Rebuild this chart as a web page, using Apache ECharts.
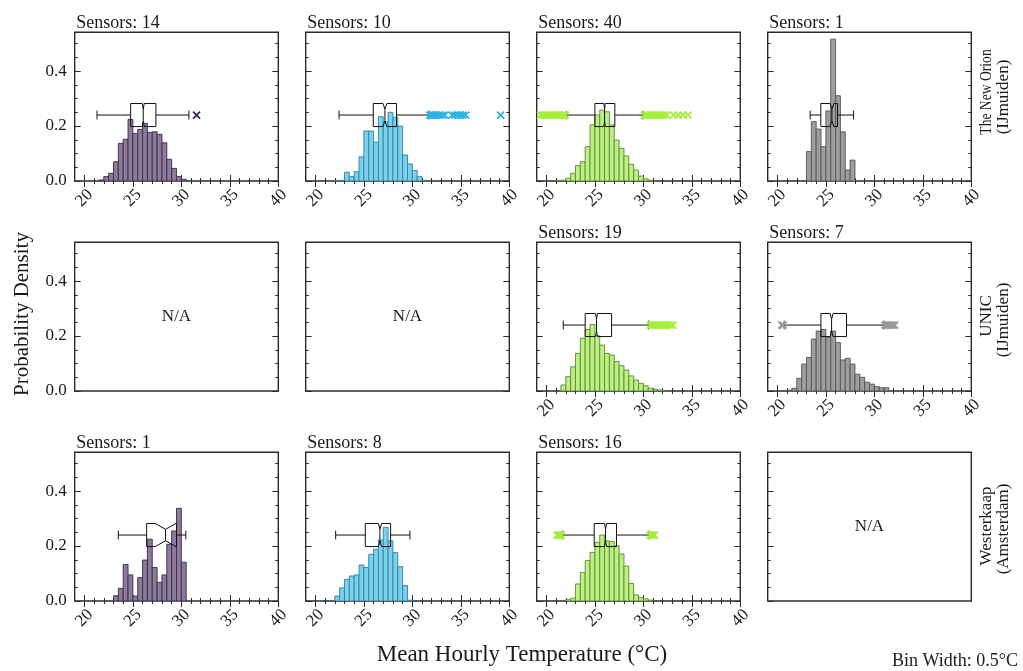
<!DOCTYPE html>
<html>
<head>
<meta charset="utf-8">
<script src="https://cdn.jsdelivr.net/npm/echarts@6/dist/echarts.min.js"></script>
<style>
  html, body { margin: 0; padding: 0; background: #fff; }
  #chart { width: 1023px; height: 671px; }
</style>
</head>
<body>
<div id="chart"></div>
<script>
// ---------------- data ----------------
const binWidth = 0.5;
const xTickValues = [20, 25, 30, 35, 40];
const yTickValues = [0, 0.2, 0.4];
const siteNames = ['The New Orion', 'UNIC', 'Westerkaap'];
const siteCities = ['(IJmuiden)', '(IJmuiden)', '(Amsterdam)'];
const xTitle = 'Mean Hourly Temperature (°C)';
const yTitle = 'Probability Density';
const binNote = 'Bin Width: 0.5°C';
const missingLabel = 'N/A';

// sensors per panel (columns left to right); null = no data
const sensorsOrion = [14, 10, 40, 1];
const sensorsUnic = [null, null, 19, 7];
const sensorsWesterkaap = [1, 8, 16, null];

// histogram: left edge of first bin + densities per 0.5 °C bin
// box: [lower whisker, Q1, notch low, median, notch high, Q3, upper whisker]
const orion1Start = 21.5;
const orion1Density = [0.004, 0.016, 0.028, 0.07, 0.137, 0.152, 0.224, 0.173, 0.188, 0.21, 0.177, 0.179, 0.17, 0.139, 0.079, 0.046, 0.016, 0.006];
const orion1Box = [21.3, 24.77, 25.97, 26.07, 26.17, 27.38, 30.78];
const orion1Outliers = [31.57];

const orion2Start = 22.0;
const orion2Density = [0.002, 0.002, 0.032, 0.016, 0.034, 0.088, 0.182, 0.182, 0.141, 0.234, 0.216, 0.25, 0.232, 0.2, 0.095, 0.062, 0.038, 0.016, 0.003];
const orion2Box = [22.44, 25.97, 26.97, 27.17, 27.37, 28.37, 31.74];
const orion2Outliers = [31.8, 31.95, 32.1, 32.3, 32.5, 32.8, 33.1, 33.35, 34.1, 34.4, 34.7, 34.95, 35.2, 35.5, 39.1];

const orion3Start = 21.0;
const orion3Density = [0.002, 0.003, 0.01, 0.028, 0.056, 0.07, 0.125, 0.204, 0.24, 0.258, 0.252, 0.204, 0.149, 0.119, 0.091, 0.061, 0.04, 0.018, 0.008, 0.003];
const orion3Box = [22.08, 25.0, 25.93, 26.0, 26.07, 27.06, 29.98];
const orion3Outliers = [19.4, 19.6, 19.8, 20.0, 20.2, 20.4, 20.6, 20.8, 21.0, 21.2, 21.4, 21.6, 21.8, 21.95,
  30.1, 30.3, 30.5, 30.7, 30.9, 31.1, 31.3, 31.5, 31.7, 31.9, 32.1, 32.4, 33.1, 33.6, 34.1, 34.6];

const orion4Start = 23.0;
const orion4Density = [0.107, 0.216, 0.189, 0.125, 0.255, 0.516, 0.31, 0.179, 0.04, 0.076];
const orion4Box = [23.38, 24.48, 25.42, 25.62, 25.82, 26.2, 27.86];
const orion4Outliers = [];

const unic3Start = 21.5;
const unic3Density = [0.022, 0.052, 0.088, 0.137, 0.192, 0.224, 0.242, 0.201, 0.167, 0.137, 0.131, 0.107, 0.092, 0.076, 0.055, 0.04, 0.028, 0.019, 0.01, 0.006, 0.004, 0.002];
const unic3Box = [21.74, 24.0, 25.07, 25.17, 25.27, 26.72, 30.56];
const unic3Outliers = [30.7, 30.9, 31.1, 31.3, 31.5, 31.7, 31.9, 32.1, 32.3, 32.5, 32.8, 33.05];

const unic4Start = 20.5;
const unic4Density = [0.002, 0.003, 0.01, 0.046, 0.098, 0.122, 0.189, 0.218, 0.224, 0.195, 0.218, 0.176, 0.113, 0.119, 0.098, 0.061, 0.05, 0.032, 0.025, 0.016, 0.012, 0.012];
const unic4Box = [20.71, 24.49, 25.44, 25.59, 25.74, 27.13, 31.01];
const unic4Outliers = [20.45, 20.6, 31.1, 31.3, 31.5, 31.7, 31.9, 32.1];

const west1Start = 23.0;
const west1Density = [0.019, 0.046, 0.133, 0.095, 0.018, 0.085, 0.149, 0.225, 0.122, 0.068, 0.095, 0.206, 0.255, 0.337, 0.141];
const west1Box = [23.5, 26.42, 27.3, 28.37, 29.45, 29.5, 30.46];
const west1Outliers = [];

const west2Start = 22.0;
const west2Density = [0.018, 0.048, 0.079, 0.091, 0.095, 0.131, 0.122, 0.17, 0.188, 0.222, 0.268, 0.219, 0.176, 0.125, 0.056, 0.003];
const west2Box = [22.09, 25.15, 26.5, 26.66, 26.82, 27.76, 29.75];
const west2Outliers = [];

const west3Start = 22.0;
const west3Density = [0.005, 0.01, 0.062, 0.104, 0.147, 0.177, 0.213, 0.24, 0.219, 0.216, 0.201, 0.171, 0.127, 0.064, 0.022, 0.013, 0.008, 0.003];
const west3Box = [21.67, 24.93, 26.0, 26.1, 26.2, 27.23, 30.59];
const west3Outliers = [21.1, 21.25, 21.4, 21.55, 30.7, 30.85, 31.0, 31.15];

// ---------------- layout & style ----------------
const FONT = '"Liberation Serif", "Times New Roman", serif';
const TEXT = '#1a1a1a';
const FRAME = '#2b2b2b';
const X_MIN = 19, X_MAX = 40, Y_MAX = 0.541;
const BOX_Y = 0.24, BOX_H = 0.042, CAP_H = 0.016;

const colLeft = [74.7, 305.7, 536.7, 767.7];
const rowTop = [32.3, 242.3, 452.3];
const cellW = 203.6, cellH = 148.7;

const palette = [
  { fill: '#8b7a98', edge: '#3b2a4c', mark: '#3e1f58' },
  { fill: '#7dcfea', edge: '#2a86a6', mark: '#2ab4e6' },
  { fill: '#bdef85', edge: '#5a8c2c', mark: '#a3f03c' },
  { fill: '#9d9d9d', edge: '#555555', mark: '#9a9a9a' }
];

const sensorRows = [sensorsOrion, sensorsUnic, sensorsWesterkaap];
const panels = [
  [
    { start: orion1Start, density: orion1Density, box: orion1Box, outliers: orion1Outliers },
    { start: orion2Start, density: orion2Density, box: orion2Box, outliers: orion2Outliers },
    { start: orion3Start, density: orion3Density, box: orion3Box, outliers: orion3Outliers },
    { start: orion4Start, density: orion4Density, box: orion4Box, outliers: orion4Outliers }
  ],
  [
    null,
    null,
    { start: unic3Start, density: unic3Density, box: unic3Box, outliers: unic3Outliers },
    { start: unic4Start, density: unic4Density, box: unic4Box, outliers: unic4Outliers }
  ],
  [
    { start: west1Start, density: west1Density, box: west1Box, outliers: west1Outliers },
    { start: west2Start, density: west2Density, box: west2Box, outliers: west2Outliers },
    { start: west3Start, density: west3Density, box: west3Box, outliers: west3Outliers },
    null
  ]
];

const tickLine = { color: FRAME, width: 1 };
const X_MARK = 'path://M0,0L7,7M7,0L0,7';

function xAxisCfg(gi, pos, ticks, labels) {
  return {
    type: 'value', gridIndex: gi, position: pos,
    min: X_MIN, max: X_MAX, splitNumber: 5,
    show: ticks || labels,
    axisLine: { show: false },
    splitLine: { show: false },
    axisTick: { show: ticks, inside: true, length: 6, customValues: xTickValues, lineStyle: tickLine },
    minorTick: { show: ticks, splitNumber: 5, length: 3, lineStyle: tickLine },
    axisLabel: {
      show: labels, customValues: xTickValues, rotate: 45, margin: 17,
      align: 'center', verticalAlign: 'middle', hideOverlap: false,
      fontFamily: FONT, fontSize: 17, color: TEXT
    }
  };
}

function yAxisCfg(gi, pos, visible, labels) {
  return {
    type: 'value', gridIndex: gi, position: pos,
    min: 0, max: Y_MAX, interval: 0.2,
    show: visible,
    axisLine: { show: false },
    splitLine: { show: false },
    axisTick: { show: true, inside: true, length: 6, customValues: yTickValues, lineStyle: tickLine },
    minorTick: { show: true, splitNumber: 4, length: 3, lineStyle: tickLine },
    axisLabel: {
      show: labels, customValues: yTickValues, margin: 8, hideOverlap: false,
      formatter: v => v.toFixed(1),
      fontFamily: FONT, fontSize: 17, color: TEXT
    }
  };
}

function renderHist(style) {
  return function (params, api) {
    const x0 = api.value(0), d = api.value(1);
    const pTop = api.coord([x0, d]);
    const pBot = api.coord([x0 + binWidth, 0]);
    return {
      type: 'rect',
      shape: { x: pTop[0], y: pTop[1], width: pBot[0] - pTop[0], height: pBot[1] - pTop[1] },
      style: { fill: style.fill, stroke: style.edge, lineWidth: 0.9 }
    };
  };
}

function renderBox(params, api) {
  const lo = api.value(0), q1 = api.value(1), nLo = api.value(2), med = api.value(3),
        nHi = api.value(4), q3 = api.value(5), hi = api.value(6);
  const P = (x, y) => api.coord([x, y]);
  const stroke = { stroke: '#111', lineWidth: 1, fill: null };
  const outline = [
    P(q1, BOX_Y - BOX_H), P(nLo, BOX_Y - BOX_H), P(med, BOX_Y - BOX_H / 2), P(nHi, BOX_Y - BOX_H), P(q3, BOX_Y - BOX_H),
    P(q3, BOX_Y + BOX_H), P(nHi, BOX_Y + BOX_H), P(med, BOX_Y + BOX_H / 2), P(nLo, BOX_Y + BOX_H), P(q1, BOX_Y + BOX_H)
  ];
  const seg = (a, b) => ({ type: 'line', shape: { x1: a[0], y1: a[1], x2: b[0], y2: b[1] }, style: stroke });
  return {
    type: 'group',
    children: [
      seg(P(lo, BOX_Y), P(q1, BOX_Y)),
      seg(P(q3, BOX_Y), P(hi, BOX_Y)),
      seg(P(lo, BOX_Y - CAP_H), P(lo, BOX_Y + CAP_H)),
      seg(P(hi, BOX_Y - CAP_H), P(hi, BOX_Y + CAP_H)),
      { type: 'polygon', shape: { points: outline }, style: { stroke: '#111', lineWidth: 1, fill: null } },
      seg(P(med, BOX_Y - BOX_H / 2), P(med, BOX_Y + BOX_H / 2))
    ]
  };
}

const grids = [], xAxes = [], yAxes = [], series = [], graphics = [];
const txt = (x, y, text, extra, props) => Object.assign({
  type: 'text', x, y, silent: true,
  style: Object.assign({ text, font: '17px ' + FONT, fill: TEXT, textAlign: 'left', textVerticalAlign: 'middle' }, extra || {})
}, props || {});

for (let r = 0; r < 3; r++) {
  for (let c = 0; c < 4; c++) {
    const gi = grids.length;
    const p = panels[r][c];
    const has = !!p;
    grids.push({
      left: colLeft[c], top: rowTop[r], width: cellW, height: cellH,
      show: true, borderColor: FRAME, borderWidth: 1.4, backgroundColor: 'transparent',
      containLabel: false, outerBoundsMode: 'none'
    });
    const xb = xAxes.length;
    xAxes.push(xAxisCfg(gi, 'bottom', has, has));
    xAxes.push(xAxisCfg(gi, 'top', has, false));
    const yl = yAxes.length;
    yAxes.push(yAxisCfg(gi, 'left', true, c === 0));
    yAxes.push(yAxisCfg(gi, 'right', !(r === 2 && c === 3), false));

    if (!has) {
      graphics.push(txt(colLeft[c] + cellW / 2, rowTop[r] + cellH / 2, missingLabel, { textAlign: 'center' }));
      continue;
    }
    const pal = palette[c];
    series.push({
      type: 'custom', xAxisIndex: xb, yAxisIndex: yl, clip: true, silent: true, animation: false, z: 2,
      data: p.density.map((d, i) => [p.start + i * binWidth, d]),
      renderItem: renderHist(pal)
    });
    series.push({
      type: 'custom', xAxisIndex: xb, yAxisIndex: yl, clip: true, silent: true, animation: false, z: 3,
      dimensions: ['lo', 'q1', 'nlo', 'med', 'nhi', 'q3', 'hi'],
      encode: { x: [0, 1, 2, 3, 4, 5, 6] },
      data: [p.box],
      renderItem: renderBox
    });
    if (p.outliers.length) {
      series.push({
        type: 'scatter', xAxisIndex: xb, yAxisIndex: yl, silent: true, animation: false, z: 4,
        data: p.outliers.map(v => [v, BOX_Y]),
        symbol: X_MARK, symbolSize: 7,
        itemStyle: { color: pal.mark, borderColor: pal.mark, borderWidth: 1.8, opacity: 1 }
      });
    }
    graphics.push(txt(colLeft[c] + 1.5, rowTop[r] - 9.5, 'Sensors: ' + sensorRows[r][c], { font: '18px ' + FONT }));
  }
}

// site names at the right of each row (two rotated lines)
const siteY = [[92, 97], [316, 320], [526, 529]];
const siteStretch = [0.8, 1, 1];
siteNames.forEach((s, r) => {
  graphics.push(txt(987, siteY[r][0], s, { textAlign: 'center' }, { rotation: Math.PI / 2, scaleX: siteStretch[r] }));
  graphics.push(txt(1003.5, siteY[r][1], siteCities[r], { textAlign: 'center' }, { rotation: Math.PI / 2 }));
});
// shared axis titles and note
graphics.push(txt(22, 314, yTitle, { textAlign: 'center', font: '21px ' + FONT }, { rotation: Math.PI / 2 }));
graphics.push(txt(522, 655, xTitle, { textAlign: 'center', font: '23px ' + FONT }));
graphics.push(txt(1018, 661, binNote, { textAlign: 'right', font: '18px ' + FONT }));

const chart = echarts.init(document.getElementById('chart'), null, { renderer: 'canvas' });
chart.setOption({
  animation: false,
  backgroundColor: '#fff',
  grid: grids,
  xAxis: xAxes,
  yAxis: yAxes,
  series: series,
  graphic: { elements: graphics }
});
</script>
</body>
</html>
